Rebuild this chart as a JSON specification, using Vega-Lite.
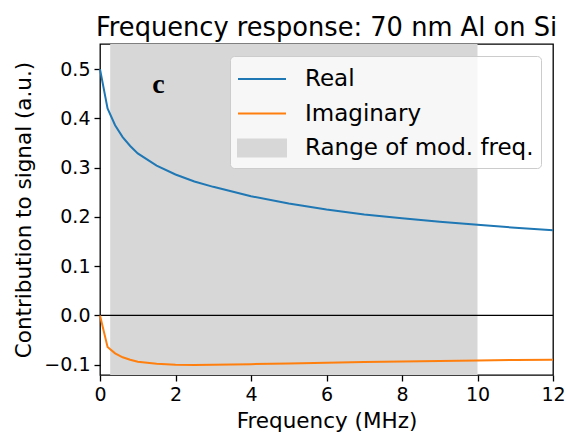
{
  "$schema": "https://vega.github.io/schema/vega-lite/v6.json",
  "width": 453,
  "height": 331,
  "autosize": "none",
  "padding": {"left": 100, "top": 44, "right": 15, "bottom": 62},
  "title": {"text": "Frequency response: 70 nm Al on Si", "fontSize": 25.7, "font": "DejaVu Sans", "fontWeight": "normal", "offset": 2, "color": "black"},
  "config": {
    "view": {"stroke": "black", "strokeWidth": 1.3},
    "font": "DejaVu Sans",
    "axis": {"grid": false, "domain": false, "tickColor": "black", "tickSize": 6, "tickWidth": 1.3, "labelColor": "black", "labelFont": "DejaVu Sans", "labelFontSize": 19, "labelFlush": false, "titleFont": "DejaVu Sans", "titleFontSize": 21.5, "titleFontWeight": "normal", "titleColor": "black"},
    "legend": {
      "orient": "top-right", "offset": 12, "title": null,
      "labelFont": "DejaVu Sans", "labelFontSize": 23, "labelColor": "black", "labelLimit": 0,
      "symbolSize": 900, "labelOffset": 36, "rowPadding": 6.5, "padding": 7,
      "fillColor": "rgba(255,255,255,0.8)", "strokeColor": "#cccccc", "cornerRadius": 4
    }
  },
  "datasets": {
    "curves": [
      {"f": 0, "v": 0.5, "s": "Real"},
      {"f": 0.2, "v": 0.42, "s": "Real"},
      {"f": 0.4, "v": 0.386, "s": "Real"},
      {"f": 0.6, "v": 0.362, "s": "Real"},
      {"f": 0.8, "v": 0.344, "s": "Real"},
      {"f": 1.0, "v": 0.329, "s": "Real"},
      {"f": 1.5, "v": 0.304, "s": "Real"},
      {"f": 2.0, "v": 0.286, "s": "Real"},
      {"f": 2.5, "v": 0.272, "s": "Real"},
      {"f": 3.0, "v": 0.261, "s": "Real"},
      {"f": 4.0, "v": 0.242, "s": "Real"},
      {"f": 5.0, "v": 0.227, "s": "Real"},
      {"f": 6.0, "v": 0.215, "s": "Real"},
      {"f": 7.0, "v": 0.205, "s": "Real"},
      {"f": 8.0, "v": 0.197, "s": "Real"},
      {"f": 9.0, "v": 0.19, "s": "Real"},
      {"f": 10.0, "v": 0.184, "s": "Real"},
      {"f": 11.0, "v": 0.178, "s": "Real"},
      {"f": 12.0, "v": 0.173, "s": "Real"},
      {"f": 0, "v": 0.0, "s": "Imaginary"},
      {"f": 0.2, "v": -0.064, "s": "Imaginary"},
      {"f": 0.4, "v": -0.077, "s": "Imaginary"},
      {"f": 0.6, "v": -0.085, "s": "Imaginary"},
      {"f": 0.8, "v": -0.09, "s": "Imaginary"},
      {"f": 1.0, "v": -0.094, "s": "Imaginary"},
      {"f": 1.5, "v": -0.098, "s": "Imaginary"},
      {"f": 2.0, "v": -0.1, "s": "Imaginary"},
      {"f": 2.5, "v": -0.1005, "s": "Imaginary"},
      {"f": 3.0, "v": -0.1003, "s": "Imaginary"},
      {"f": 4.0, "v": -0.099, "s": "Imaginary"},
      {"f": 5.0, "v": -0.0977, "s": "Imaginary"},
      {"f": 6.0, "v": -0.0962, "s": "Imaginary"},
      {"f": 7.0, "v": -0.0948, "s": "Imaginary"},
      {"f": 8.0, "v": -0.0935, "s": "Imaginary"},
      {"f": 9.0, "v": -0.0924, "s": "Imaginary"},
      {"f": 10.0, "v": -0.0914, "s": "Imaginary"},
      {"f": 11.0, "v": -0.0906, "s": "Imaginary"},
      {"f": 12.0, "v": -0.0899, "s": "Imaginary"}
    ],
    "span": [{"a": 0.27, "b": 10, "s": "Range of mod. freq."}],
    "zero": [{"y": 0}],
    "label": [{"x": 1.55, "y": 0.468, "t": "c"}]
  },
  "layer": [
    {
      "data": {"name": "span"},
      "mark": {"type": "rect", "opacity": 1},
      "encoding": {
        "x": {"field": "a", "type": "quantitative", "scale": {"domain": [0, 12], "nice": false}, "axis": {"title": "Frequency (MHz)", "values": [0, 2, 4, 6, 8, 10, 12], "labelPadding": 4, "titlePadding": 6}},
        "x2": {"field": "b"},
        "color": {
          "field": "s", "type": "nominal",
          "scale": {"domain": ["Real", "Imaginary", "Range of mod. freq."], "range": ["#1f77b4", "#ff7f0e", "#d7d7d7"]},
          "legend": {
            "symbolType": "stroke",
            "encode": {"symbols": {"update": {
              "shape": {"signal": "datum.value === 'Range of mod. freq.' ? 'M-1,-0.57H2.2V0.57H-1Z' : 'M-1,0H2.2'"},
              "fill": {"signal": "datum.value === 'Range of mod. freq.' ? '#d7d7d7' : 'transparent'"},
              "stroke": {"signal": "datum.value === 'Range of mod. freq.' ? 'transparent' : (datum.value === 'Real' ? '#1f77b4' : '#ff7f0e')"},
              "strokeWidth": {"value": 2},
              "opacity": {"value": 1}
            }}}
          }
        }
      }
    },
    {
      "data": {"name": "zero"},
      "mark": {"type": "rule", "color": "black", "strokeWidth": 1.3},
      "encoding": {"y": {"field": "y", "type": "quantitative"}}
    },
    {
      "data": {"name": "curves"},
      "mark": {"type": "line", "strokeWidth": 2},
      "encoding": {
        "x": {"field": "f", "type": "quantitative"},
        "y": {"field": "v", "type": "quantitative", "scale": {"domain": [-0.121, 0.551], "nice": false, "zero": false}, "axis": {"title": "Contribution to signal (a.u.)", "values": [-0.1, 0, 0.1, 0.2, 0.3, 0.4, 0.5], "format": ".1f", "labelPadding": 4, "titlePadding": 8}},
        "color": {"field": "s", "type": "nominal", "sort": ["Real", "Imaginary", "Range of mod. freq."],
          "legend": {
            "symbolType": "stroke",
            "encode": {"symbols": {"update": {
              "shape": {"signal": "datum.value === 'Range of mod. freq.' ? 'M-1,-0.57H2.2V0.57H-1Z' : 'M-1,0H2.2'"},
              "fill": {"signal": "datum.value === 'Range of mod. freq.' ? '#d7d7d7' : 'transparent'"},
              "stroke": {"signal": "datum.value === 'Range of mod. freq.' ? 'transparent' : (datum.value === 'Real' ? '#1f77b4' : '#ff7f0e')"},
              "strokeWidth": {"value": 2},
              "opacity": {"value": 1}
            }}}
          }
        }
      }
    },
    {
      "data": {"name": "label"},
      "mark": {"type": "text", "font": "Liberation Serif", "fontSize": 28, "fontWeight": "bold", "color": "black", "baseline": "middle", "align": "center"},
      "encoding": {"x": {"field": "x", "type": "quantitative"}, "y": {"field": "y", "type": "quantitative"}, "text": {"field": "t"}}
    }
  ]
}
